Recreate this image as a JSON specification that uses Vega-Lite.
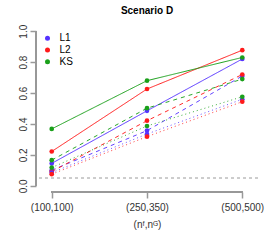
{
  "$schema": "https://vega.github.io/schema/vega-lite/v6.json",
  "width": 222,
  "height": 167,
  "autosize": {"type": "none"},
  "padding": {"left": 36, "top": 25, "right": 12, "bottom": 48},
  "background": "white",
  "title": {"text": "Scenario D", "fontSize": 10, "font": "Liberation Sans", "fontWeight": "bold", "color": "#000", "anchor": "middle", "offset": 8},
  "config": {
    "view": {"stroke": null},
    "font": "Liberation Sans",
    "axis": {"grid": false, "domain": false, "tickColor": "#999", "tickWidth": 1.5, "tickSize": 6, "labelFont": "Liberation Sans", "labelFontSize": 10, "labelColor": "#333", "labelOverlap": false, "titleFont": "Liberation Sans", "titleFontSize": 10, "titleFontWeight": "normal", "titleColor": "#333"}
  },
  "data": {"values": [
    {"method": "L1", "type": "solid", "n": 1, "value": 0.145},
    {"method": "L1", "type": "solid", "n": 2, "value": 0.485},
    {"method": "L1", "type": "solid", "n": 3, "value": 0.82},
    {"method": "L2", "type": "solid", "n": 1, "value": 0.222},
    {"method": "L2", "type": "solid", "n": 2, "value": 0.626},
    {"method": "L2", "type": "solid", "n": 3, "value": 0.877},
    {"method": "KS", "type": "solid", "n": 1, "value": 0.368},
    {"method": "KS", "type": "solid", "n": 2, "value": 0.68},
    {"method": "KS", "type": "solid", "n": 3, "value": 0.83},
    {"method": "L1", "type": "dashed", "n": 1, "value": 0.101},
    {"method": "L1", "type": "dashed", "n": 2, "value": 0.357},
    {"method": "L1", "type": "dashed", "n": 3, "value": 0.71},
    {"method": "L2", "type": "dashed", "n": 1, "value": 0.092},
    {"method": "L2", "type": "dashed", "n": 2, "value": 0.421},
    {"method": "L2", "type": "dashed", "n": 3, "value": 0.72},
    {"method": "KS", "type": "dashed", "n": 1, "value": 0.166},
    {"method": "KS", "type": "dashed", "n": 2, "value": 0.502},
    {"method": "KS", "type": "dashed", "n": 3, "value": 0.69},
    {"method": "L1", "type": "dotted", "n": 1, "value": 0.085},
    {"method": "L1", "type": "dotted", "n": 2, "value": 0.335},
    {"method": "L1", "type": "dotted", "n": 3, "value": 0.56},
    {"method": "L2", "type": "dotted", "n": 1, "value": 0.075},
    {"method": "L2", "type": "dotted", "n": 2, "value": 0.318},
    {"method": "L2", "type": "dotted", "n": 3, "value": 0.544},
    {"method": "KS", "type": "dotted", "n": 1, "value": 0.118},
    {"method": "KS", "type": "dotted", "n": 2, "value": 0.387},
    {"method": "KS", "type": "dotted", "n": 3, "value": 0.576}
  ]},
  "layer": [
    {
      "mark": {"type": "rule", "color": "#cccccc", "strokeDash": [3, 3], "strokeWidth": 1},
      "encoding": {
        "y": {"datum": 0.05, "type": "quantitative", "scale": {"domain": [-0.04, 1.04], "nice": false, "zero": false},
              "axis": {"values": [0, 0.2, 0.4, 0.6, 0.8, 1.0], "format": ".1f", "title": "", "labelAngle": -90, "labelAlign": "center", "labelBaseline": "alphabetic", "labelPadding": 4, "labelOverlap": false, "labelFlush": false}}
      }
    },
    {
      "mark": {"type": "rule", "color": "#999", "strokeWidth": 1.5},
      "encoding": {
        "x": {"datum": 0.835, "type": "quantitative", "scale": {"domain": [0.835, 3.165], "nice": false, "zero": false},
              "axis": {"values": [1, 2, 3], "labelExpr": "datum.value == 1 ? '(100,100)' : datum.value == 2 ? '(250,350)' : '(500,500)'", "title": "(nᶠ,nᴳ)", "labelPadding": 4, "titlePadding": 7, "labelFlush": false, "labelOverlap": false}},
        "y": {"datum": 0, "type": "quantitative", "scale": {"domain": [-0.04, 1.04], "nice": false, "zero": false},
              "axis": {"values": [0, 0.2, 0.4, 0.6, 0.8, 1.0], "format": ".1f", "title": "", "labelAngle": -90, "labelAlign": "center", "labelBaseline": "alphabetic", "labelPadding": 4, "labelOverlap": false, "labelFlush": false}},
        "y2": {"datum": 1}
      }
    },
    {
      "mark": {"type": "rule", "color": "#999", "strokeWidth": 1.5},
      "encoding": {
        "x": {"datum": 1, "type": "quantitative", "scale": {"domain": [0.835, 3.165], "nice": false, "zero": false},
              "axis": {"values": [1, 2, 3], "labelExpr": "datum.value == 1 ? '(100,100)' : datum.value == 2 ? '(250,350)' : '(500,500)'", "title": "(nᶠ,nᴳ)", "labelPadding": 4, "titlePadding": 7, "labelFlush": false, "labelOverlap": false}},
        "x2": {"datum": 3},
        "y": {"datum": -0.04, "type": "quantitative", "scale": {"domain": [-0.04, 1.04], "nice": false, "zero": false},
              "axis": {"values": [0, 0.2, 0.4, 0.6, 0.8, 1.0], "format": ".1f", "title": "", "labelAngle": -90, "labelAlign": "center", "labelBaseline": "alphabetic", "labelPadding": 4, "labelOverlap": false, "labelFlush": false}}
      }
    },
    {
      "mark": {"type": "line", "strokeWidth": 1},
      "encoding": {
        "x": {"field": "n", "type": "quantitative", "scale": {"domain": [0.835, 3.165], "nice": false, "zero": false},
              "axis": {"values": [1, 2, 3], "labelExpr": "datum.value == 1 ? '(100,100)' : datum.value == 2 ? '(250,350)' : '(500,500)'", "title": "(nᶠ,nᴳ)", "labelPadding": 4, "titlePadding": 7, "labelFlush": false, "labelOverlap": false}},
        "y": {"field": "value", "type": "quantitative", "scale": {"domain": [-0.04, 1.04], "nice": false, "zero": false},
              "axis": {"values": [0, 0.2, 0.4, 0.6, 0.8, 1.0], "format": ".1f", "title": "", "labelAngle": -90, "labelAlign": "center", "labelBaseline": "alphabetic", "labelPadding": 4, "labelOverlap": false, "labelFlush": false}},
        "color": {"field": "method", "type": "nominal", "scale": {"domain": ["L1", "L2", "KS"], "range": ["#5533ff", "#ff1a1a", "#1aa01a"]}},
        "strokeDash": {"field": "type", "type": "nominal", "scale": {"domain": ["solid", "dashed", "dotted"], "range": [[1, 0], [4, 4], [1, 3]]}, "legend": null},
        "opacity": {"field": "type", "type": "nominal", "scale": {"domain": ["solid", "dashed", "dotted"], "range": [1, 0.85, 0.6]}, "legend": null},
        "detail": {"field": "type"}
      }
    },
    {
      "mark": {"type": "point", "filled": true, "size": 22, "opacity": 1},
      "encoding": {
        "x": {"field": "n", "type": "quantitative", "scale": {"domain": [0.835, 3.165], "nice": false, "zero": false},
              "axis": {"values": [1, 2, 3], "labelExpr": "datum.value == 1 ? '(100,100)' : datum.value == 2 ? '(250,350)' : '(500,500)'", "title": "(nᶠ,nᴳ)", "labelPadding": 4, "titlePadding": 7, "labelFlush": false, "labelOverlap": false}},
        "y": {"field": "value", "type": "quantitative", "scale": {"domain": [-0.04, 1.04], "nice": false, "zero": false},
              "axis": {"values": [0, 0.2, 0.4, 0.6, 0.8, 1.0], "format": ".1f", "title": "", "labelAngle": -90, "labelAlign": "center", "labelBaseline": "alphabetic", "labelPadding": 4, "labelOverlap": false, "labelFlush": false}},
        "color": {"field": "method", "type": "nominal", "scale": {"domain": ["L1", "L2", "KS"], "range": ["#5533ff", "#ff1a1a", "#1aa01a"]},
                  "legend": {"title": null, "orient": "none", "legendX": 6.5, "legendY": 8.3, "padding": 0, "symbolType": "circle", "symbolSize": 25, "symbolStrokeWidth": 0, "labelFontSize": 10, "labelFont": "Liberation Sans", "labelColor": "#000", "labelOffset": 7, "rowPadding": 1.7}}
      }
    }
  ]
}
